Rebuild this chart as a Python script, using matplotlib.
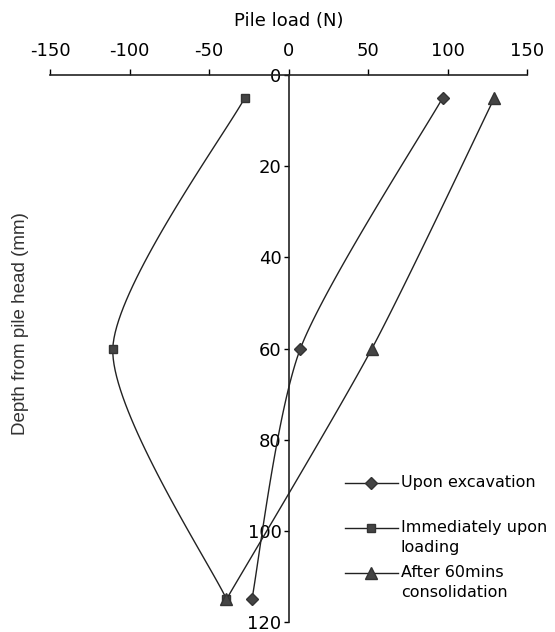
import numpy as np
from matplotlib import pyplot as plt
from matplotlib.legend_handler import HandlerLine2D

# depth (mm) where strain gauges sit
depth = [5, 60, 115]

# pile load (N) at each depth
load_excavation = [97, 7.5, -23]
load_loading = [-27.5, -110.5, -39]
load_consolidation = [129.5, 52.5, -39]

series_labels = ['Upon excavation\n', 'Immediately upon\nloading', 'After 60mins\nconsolidation']
series_markers = ['D', 's', '^']
marker_sizes = [6, 5.5, 8]

x_ticks = [-150, -100, -50, 0, 50, 100, 150]
y_ticks = [0, 20, 40, 60, 80, 100, 120]

# rough pixel scale of each axis, so the smoothing looks the same as on screen
SX, SY = 1.6, 4.56
TENSION = 8


def smooth(xs, ys, n=40):
    # catmull-rom style smoothing, similar to a spreadsheet "smoothed line"
    pts = np.column_stack([np.array(xs) * SX, np.array(ys) * SY])
    ext = np.vstack([pts[0], pts, pts[-1]])
    out = []
    t = np.linspace(0, 1, n)[:, None]
    for i in range(1, len(ext) - 2):
        p0, p1, p2, p3 = ext[i - 1], ext[i], ext[i + 1], ext[i + 2]
        c1 = p1 + (p2 - p0) / TENSION
        c2 = p2 - (p3 - p1) / TENSION
        seg = ((1 - t) ** 3) * p1 + 3 * ((1 - t) ** 2) * t * c1 + 3 * (1 - t) * t ** 2 * c2 + t ** 3 * p2
        out.append(seg)
    out = np.vstack(out)
    return out[:, 0] / SX, out[:, 1] / SY


class FirstLineHandler(HandlerLine2D):
    # put the legend sample level with the first line of a two line label
    def __init__(self, shift, **kw):
        super().__init__(**kw)
        self.shift = shift

    def create_artists(self, legend, orig_handle, xdescent, ydescent, width, height, fontsize, trans):
        arts = super().create_artists(legend, orig_handle, xdescent, ydescent, width, height, fontsize, trans)
        for a in arts:
            a.set_ydata(np.asarray(a.get_ydata(), dtype=float) + self.shift)
        return arts


plt.rcParams['axes.unicode_minus'] = False
fig = plt.figure(figsize=(5.55, 6.32), dpi=100)
ax = fig.add_axes([50 / 555, 10 / 632, 477 / 555, 547 / 632])

handles = []
for vals, lab, mk, ms in zip([load_excavation, load_loading, load_consolidation],
                             series_labels, series_markers, marker_sizes):
    sx, sy = smooth(vals, depth)
    ax.plot(sx, sy, color='#222222', lw=1.0)
    ax.plot(vals, depth, linestyle='none', marker=mk, ms=ms, color='#444444', mec='#333333')
    h, = ax.plot([], [], color='#222222', lw=1.0, marker=mk, ms=ms, mfc='#444444', mec='#333333', label=lab)
    handles.append(h)

ax.set_xlim(-150, 150)
ax.set_ylim(120, 0)
ax.set_xticks(x_ticks)
ax.set_yticks(y_ticks)

ax.spines['right'].set_visible(False)
ax.spines['bottom'].set_visible(False)
ax.spines['left'].set_position(('data', 0))
for sp in ['left', 'top']:
    ax.spines[sp].set_linewidth(1.2)
    ax.spines[sp].set_color('#222222')

ax.xaxis.set_ticks_position('top')
ax.xaxis.set_label_position('top')
ax.tick_params(axis='x', direction='out', length=4.5, width=1, pad=6, labelsize=13)
ax.tick_params(axis='y', direction='out', length=3.5, width=1, pad=1.5, labelsize=13)

ax.set_xlabel('Pile load (N)', fontsize=13, labelpad=12)
ax.set_ylabel('Depth from pile head (mm)', fontsize=13.5, family='Liberation Sans', color='#333333')
ax.yaxis.set_label_coords(-0.045, 0.545)

hmap = {h: FirstLineHandler(7.2) for h in handles}
leg = ax.legend(handles=handles, loc='upper left', bbox_to_anchor=(345 / 555, 1 - 475 / 632),
                bbox_transform=fig.transFigure, frameon=False, fontsize=11.5, handler_map=hmap,
                handlelength=3.3, handletextpad=0.2, labelspacing=0.65, borderpad=0, borderaxespad=0)
for txt in leg.get_texts():
    txt.set_linespacing(1.4)

fig.savefig('out.png', dpi=100)
